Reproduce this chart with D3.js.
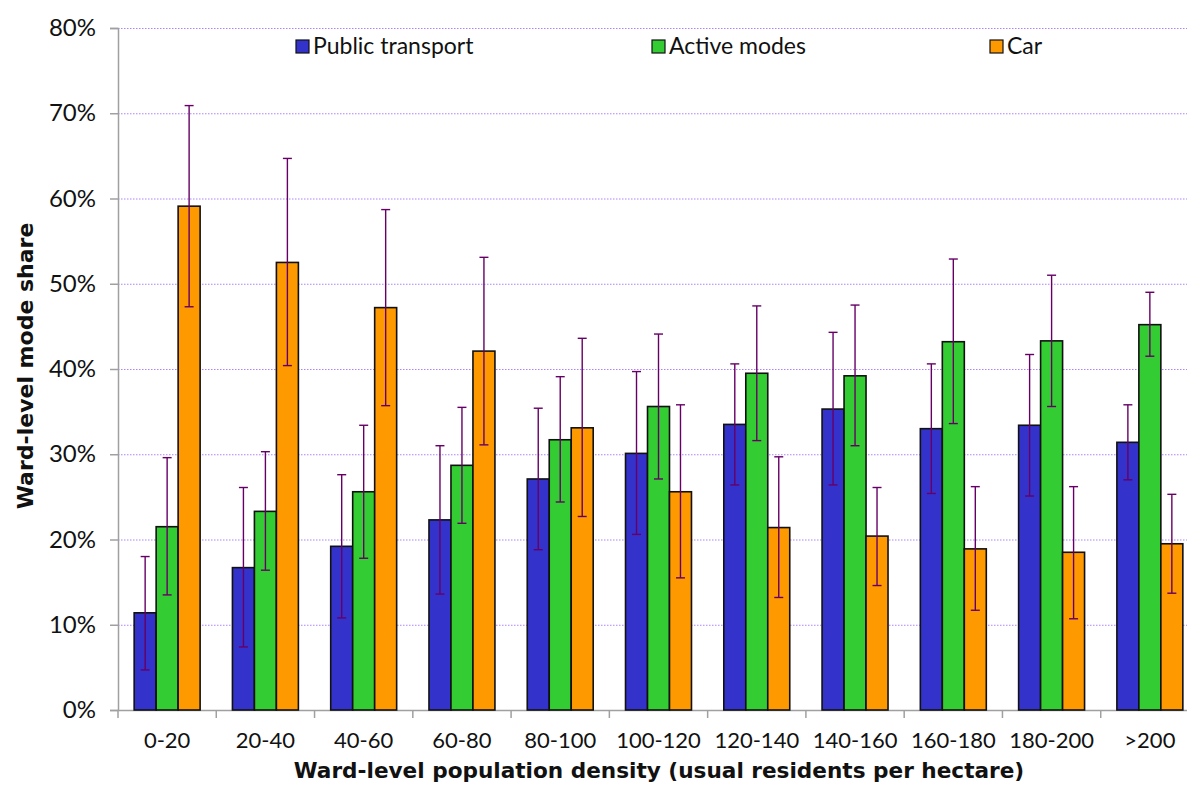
<!DOCTYPE html>
<html><head><meta charset="utf-8">
<script src="https://cdn.jsdelivr.net/npm/d3@7"></script>
<style>body{margin:0;background:#fff}text{font-family:Lato,"Noto Sans",sans-serif}</style>
</head><body><svg id="c" width="1187" height="785"></svg>
<script>
const categories = ["0-20","20-40","40-60","60-80","80-100","100-120","120-140","140-160","160-180","180-200",">200"];
const seriesNames = ["Public transport","Active modes","Car"];
const seriesColors = ["#3333CC","#33CC33","#FF9900"];
const publicTransport = [11.4,16.7,19.2,22.3,27.1,30.1,33.5,35.3,33.0,33.4,31.4];
const publicLow  = [4.7,7.4,10.8,13.6,18.8,20.6,26.4,26.4,25.4,25.1,27.0];
const publicHigh = [18.0,26.1,27.6,31.0,35.4,39.7,40.6,44.3,40.6,41.7,35.8];
const activeModes = [21.5,23.3,25.6,28.7,31.7,35.6,39.5,39.2,43.2,43.3,45.2];
const activeLow  = [13.5,16.4,17.8,21.9,24.4,27.1,31.6,31.0,33.6,35.6,41.5];
const activeHigh = [29.6,30.3,33.4,35.5,39.1,44.1,47.4,47.5,52.9,51.0,49.0];
const car = [59.1,52.5,47.2,42.1,33.1,25.6,21.4,20.4,18.9,18.5,19.5];
const carLow  = [47.3,40.4,35.7,31.1,22.7,15.5,13.2,14.6,11.7,10.7,13.7];
const carHigh = [70.9,64.7,58.7,53.1,43.6,35.8,29.7,26.1,26.2,26.2,25.3];
const yTicks = [0,10,20,30,40,50,60,70,80];

const series = [
  {name:seriesNames[0], color:seriesColors[0], v:publicTransport, lo:publicLow, hi:publicHigh},
  {name:seriesNames[1], color:seriesColors[1], v:activeModes, lo:activeLow, hi:activeHigh},
  {name:seriesNames[2], color:seriesColors[2], v:car, lo:carLow, hi:carHigh}
];

const svg = d3.select("#c");
const L=118, R=1199, T=28, B=710;
const x = d3.scaleBand().domain(categories).range([L,R]).paddingInner(0).paddingOuter(0);
const xs = d3.scaleBand().domain([0,1,2]).range([0,x.bandwidth()]).paddingOuter(0.735).paddingInner(0);
const y = d3.scaleLinear().domain([0,80]).range([B,T]);

// gridlines
svg.append("g").selectAll("line").data(yTicks.filter(d=>d>0)).join("line")
  .attr("x1",L).attr("x2",R).attr("y1",d=>y(d)+0.5).attr("y2",d=>y(d)+0.5)
  .attr("stroke","#9966ff").attr("stroke-width",1).attr("stroke-dasharray","1.5,1.5").attr("opacity",0.8);

// y axis
const ya = svg.append("g").attr("transform",`translate(${L},0)`)
  .call(d3.axisLeft(y).tickValues(yTicks).tickFormat(d=>d+"%").tickSize(8).tickPadding(14));
ya.select(".domain").attr("stroke","#a0a0a0").attr("stroke-width",1.5);
ya.selectAll(".tick line").attr("stroke","#a0a0a0").attr("stroke-width",1.5);
ya.selectAll(".tick text").attr("font-size",24).attr("fill","#111").style("font-family","Lato,'Noto Sans',sans-serif");

// x axis
const xa = svg.append("g").attr("transform",`translate(0,${B})`)
  .call(d3.axisBottom(x).tickSize(0).tickPadding(22));
xa.select(".domain").attr("stroke","#a0a0a0").attr("stroke-width",1.5);
xa.selectAll(".tick text").attr("font-size",22).attr("fill","#111").style("font-family","Lato,'Noto Sans',sans-serif");
svg.append("g").selectAll("line").data(d3.range(categories.length+1)).join("line")
  .attr("x1",i=>L+i*x.step()).attr("x2",i=>L+i*x.step())
  .attr("y1",B).attr("y2",B+8).attr("stroke","#a0a0a0").attr("stroke-width",1.5);

// bars
const groups = svg.append("g").selectAll("g").data(categories).join("g")
  .attr("transform",d=>`translate(${x(d)},0)`);
series.forEach((s,si)=>{
  groups.append("rect")
    .attr("x",xs(si)).attr("width",xs.bandwidth())
    .attr("y",(d,i)=>y(s.v[i])).attr("height",(d,i)=>B-y(s.v[i]))
    .attr("fill",s.color).attr("stroke","#111").attr("stroke-width",1.6);
});
// error bars
series.forEach((s,si)=>{
  const cx = xs(si)+xs.bandwidth()/2;
  const eg = groups.append("g").attr("stroke","#660066").attr("stroke-width",1.4);
  eg.append("line").attr("x1",cx).attr("x2",cx).attr("y1",(d,i)=>y(s.lo[i])).attr("y2",(d,i)=>y(s.hi[i]));
  eg.append("line").attr("x1",cx-4.5).attr("x2",cx+4.5).attr("y1",(d,i)=>y(s.lo[i])).attr("y2",(d,i)=>y(s.lo[i]));
  eg.append("line").attr("x1",cx-4.5).attr("x2",cx+4.5).attr("y1",(d,i)=>y(s.hi[i])).attr("y2",(d,i)=>y(s.hi[i]));
});

// legend
const legX = [296,652,990];
const lg = svg.append("g").selectAll("g").data(series).join("g")
  .attr("transform",(d,i)=>`translate(${legX[i]},40)`);
lg.append("rect").attr("width",13).attr("height",13).attr("fill",d=>d.color).attr("stroke","#111").attr("stroke-width",1.2);
lg.append("text").attr("x",17).attr("y",14).attr("font-size",23).attr("fill","#111").text(d=>d.name);

// titles
svg.append("text").attr("x",659).attr("y",778).attr("text-anchor","middle")
  .attr("font-size",21.6).attr("font-weight","bold").attr("fill","#111")
  .style("font-family","'DejaVu Sans',sans-serif")
  .text("Ward-level population density (usual residents per hectare)");
svg.append("text").attr("transform","translate(33,366) rotate(-90)").attr("text-anchor","middle")
  .attr("font-size",22).attr("font-weight","bold").attr("fill","#111")
  .style("font-family","'DejaVu Sans',sans-serif")
  .text("Ward-level mode share");
</script></body></html>
